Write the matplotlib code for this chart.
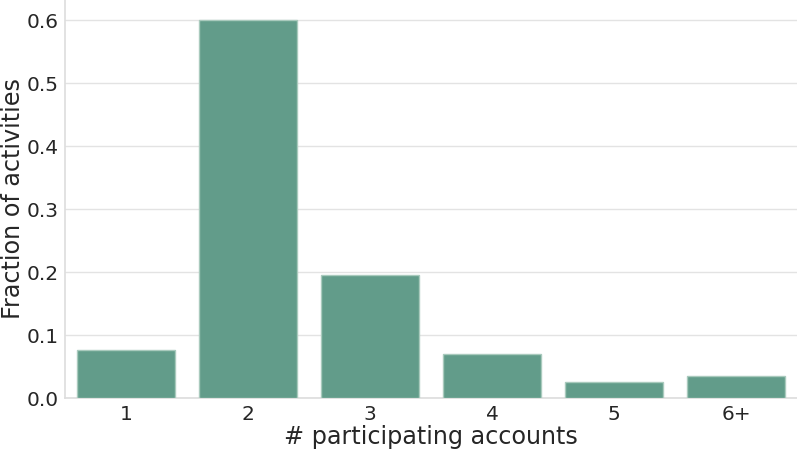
import matplotlib
matplotlib.use("Agg")
import matplotlib.pyplot as plt
import seaborn as sns

categories = ["1", "2", "3", "4", "5", "6+"]
fractions = [0.076, 0.600, 0.195, 0.070, 0.025, 0.035]

sns.set_theme(style="whitegrid")
plt.rcParams['font.family'] = ['DejaVu Sans']
plt.rcParams['text.color'] = '#262626'

fig = plt.figure(figsize=(7.97, 4.5), dpi=100)
ax = fig.add_axes([65/797, 52/450, 1 - 65/797, 398/450])
ax.bar(range(len(categories)), fractions, width=0.8, color='#629C8A',
       edgecolor='#a9cabd', linewidth=1.0, zorder=3)
ax.set_xlim(-0.5, 5.5)
ax.set_ylim(0, 0.632)
ax.set_xticks(range(len(categories)))
ax.set_xticklabels(categories)
ax.set_yticks([0.0, 0.1, 0.2, 0.3, 0.4, 0.5, 0.6])
ax.set_yticklabels(["0.0", "0.1", "0.2", "0.3", "0.4", "0.5", "0.6"])
ax.tick_params(axis='both', labelsize=14.5, colors='#262626', length=0)
ax.tick_params(axis='y', pad=4.5)
ax.tick_params(axis='x', pad=5)
ax.set_xlabel("# participating accounts", fontsize=17.2, color='#262626', labelpad=1)
ax.set_ylabel("Fraction of activities", fontsize=17.2, color='#262626')
ax.yaxis.set_label_coords(-0.054, 0.5)
ax.grid(axis='y', color='#e3e3e3', linewidth=1.0, zorder=0)
ax.grid(axis='x', visible=False)
for s in ['top', 'right']:
    ax.spines[s].set_visible(False)
for s in ['left', 'bottom']:
    ax.spines[s].set_color('#dddddd')
    ax.spines[s].set_linewidth(1.2)
fig.savefig("out.png", dpi=100)
